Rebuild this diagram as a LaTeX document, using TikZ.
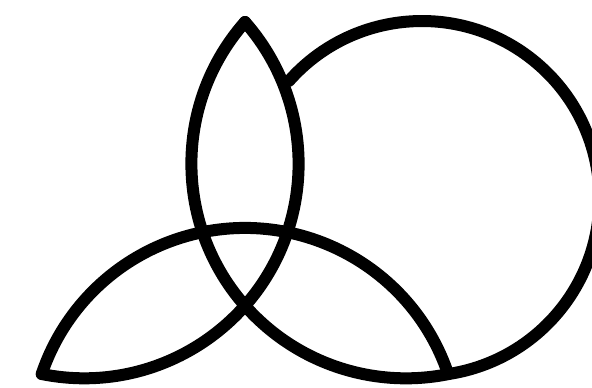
\documentclass[tikz,border=0pt]{standalone}
\usepackage{tikz}
\usetikzlibrary{calc}
\begin{document}
\begin{tikzpicture}[scale=0.025, line width=0.3cm, line cap=round, line join=round]
    \clip (-245,-131.3) rectangle (347,256.7); %枠
    \coordinate (O) at (0,0); %中心
    \foreach \a in {0,120,240}
        \draw[rotate=\a] (90:234.7) arc[start angle=138.6, end angle=281.4, radius=214.5]; %三つの弧
    \coordinate (ctr) at (177,58.2); %円の中心
    \draw ($(ctr)+(138.5:177.5)$) arc[start angle=138.5, end angle=-81.5, radius=177.5]; %円
\end{tikzpicture}
\end{document}
